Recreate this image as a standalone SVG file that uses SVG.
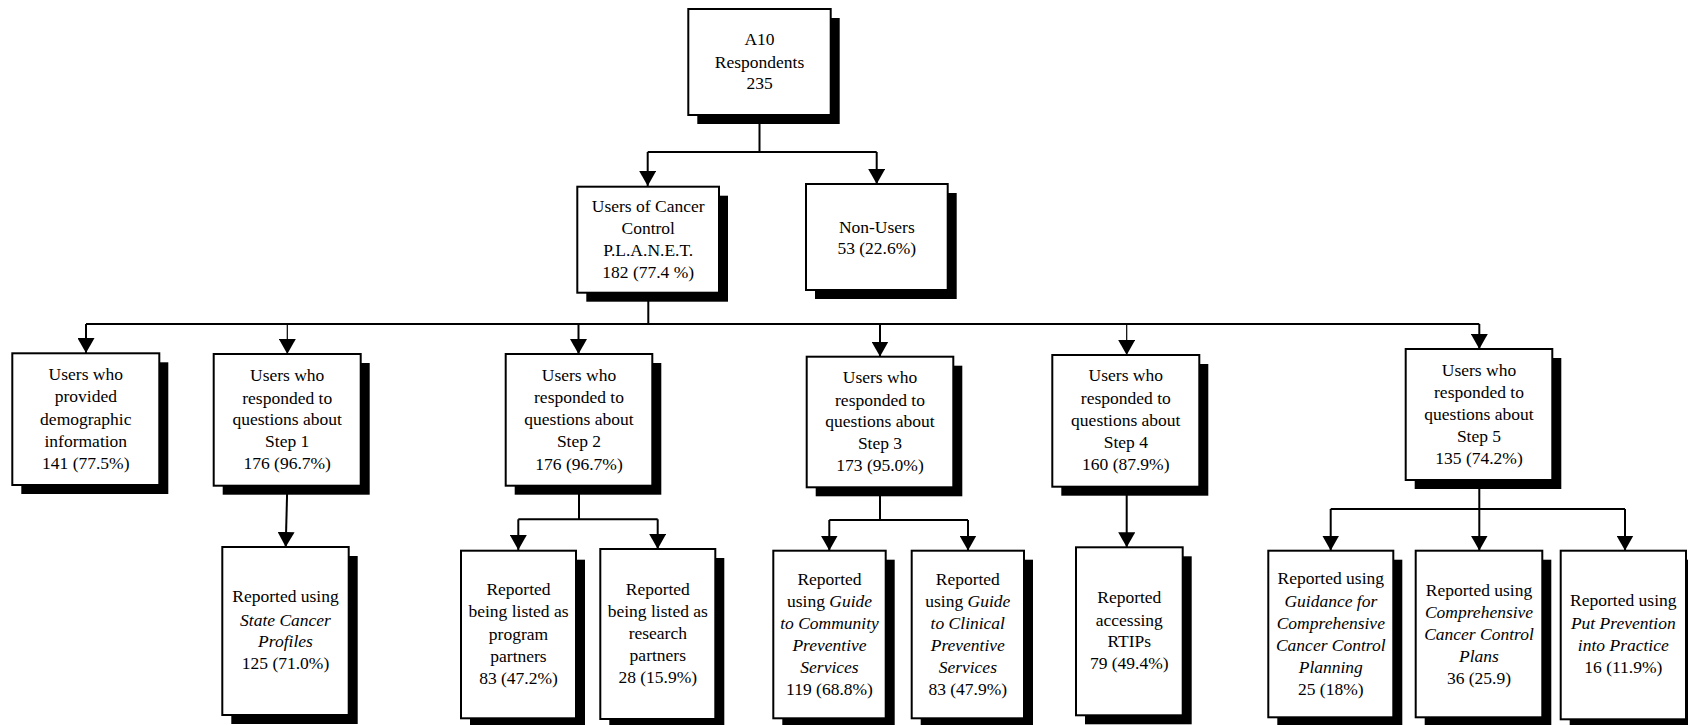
<svg xmlns="http://www.w3.org/2000/svg" width="1688" height="725" viewBox="0 0 1688 725">
<style>
.box{fill:#fff;stroke:#000;stroke-width:2}
.sh{fill:#000}
text{font-family:"Liberation Serif","Times New Roman",serif;font-size:17.5px;text-anchor:middle;fill:#000}
.it{font-style:italic}
.c{fill:none;stroke:#000;stroke-width:2}
.t{fill:none;stroke:#000;stroke-width:1.2}
</style>
<defs>
<marker id="ah" markerUnits="userSpaceOnUse" markerWidth="16" markerHeight="17" refX="15" refY="8.5" orient="auto" viewBox="0 0 16 17">
<path d="M0,0 L15,8.5 L0,17 z" fill="#000"/>
</marker>
</defs>
<rect width="1688" height="725" fill="#fff"/>

<g id="connectors">
<path class="c" d="M759.5 116 V152 M647.7 152 H876.7"/>
<path class="c" d="M647.7 152 V186" marker-end="url(#ah)"/>
<path class="c" d="M876.7 152 V184" marker-end="url(#ah)"/>
<path class="c" d="M648.3 293 V324 M86 324 H1479.3"/>
<path class="c" d="M86 324 V353" marker-end="url(#ah)"/>
<path class="t" d="M287.3 324 V354" marker-end="url(#ah)"/>
<path class="c" d="M578.5 324 V354" marker-end="url(#ah)"/>
<path class="c" d="M880 324 V356.5" marker-end="url(#ah)"/>
<path class="t" d="M1126.7 324 V355" marker-end="url(#ah)"/>
<path class="c" d="M1479.3 324 V349" marker-end="url(#ah)"/>
<path class="c" d="M287.3 486 L285.7 547" marker-end="url(#ah)"/>
<path class="c" d="M579 486 V519.3 M518.3 519.3 H657.7"/>
<path class="c" d="M518.3 519.3 V550" marker-end="url(#ah)"/>
<path class="c" d="M657.7 519.3 V549" marker-end="url(#ah)"/>
<path class="c" d="M880 488 V520 M829.3 520 H968"/>
<path class="c" d="M829.3 520 V550.5" marker-end="url(#ah)"/>
<path class="c" d="M968 520 V550.5" marker-end="url(#ah)"/>
<path class="c" d="M1126.7 487 V547.3" marker-end="url(#ah)"/>
<path class="c" d="M1479.3 480 V509 M1330.7 509 H1625"/>
<path class="c" d="M1330.7 509 V550.5" marker-end="url(#ah)"/>
<path class="c" d="M1479.3 509 V550.5" marker-end="url(#ah)"/>
<path class="c" d="M1625 509 V550.5" marker-end="url(#ah)"/>
</g>

<g id="root">
<rect class="sh" x="697.3" y="18" width="142.4" height="106"/>
<rect class="box" x="688.3" y="9" width="142.4" height="106"/>
<text x="759.5" y="45">A10</text>
<text x="759.5" y="67.5">Respondents</text>
<text x="759.5" y="89">235</text>
</g>

<g id="users">
<rect class="sh" x="586.3" y="195.7" width="141.7" height="106"/>
<rect class="box" x="577.3" y="186.7" width="141.7" height="106"/>
<text x="648.2" y="211.5">Users of Cancer</text>
<text x="648.2" y="233.8">Control</text>
<text x="648.2" y="256">P.L.A.N.E.T.</text>
<text x="648.2" y="278">182 (77.4 %)</text>
</g>

<g id="nonusers">
<rect class="sh" x="815" y="193" width="141.7" height="106"/>
<rect class="box" x="806" y="184" width="141.7" height="106"/>
<text x="876.8" y="232.5">Non-Users</text>
<text x="876.8" y="254">53 (22.6%)</text>
</g>

<g id="demographic">
<rect class="sh" x="21.3" y="362.3" width="147" height="131.7"/>
<rect class="box" x="12.3" y="353.3" width="147" height="131.7"/>
<text x="85.8" y="380">Users who</text>
<text x="85.8" y="402.3">provided</text>
<text x="85.8" y="424.6">demographic</text>
<text x="85.8" y="447">information</text>
<text x="85.8" y="469.3">141 (77.5%)</text>
</g>

<g id="step1">
<rect class="sh" x="222.7" y="363" width="147" height="131.7"/>
<rect class="box" x="213.7" y="354" width="147" height="131.7"/>
<text x="287.2" y="381.3">Users who</text>
<text x="287.2" y="403.5">responded to</text>
<text x="287.2" y="425.3">questions about</text>
<text x="287.2" y="447.3">Step 1</text>
<text x="287.2" y="469.3">176 (96.7%)</text>
</g>

<g id="statecancer">
<rect class="sh" x="231.3" y="556" width="126.4" height="168"/>
<rect class="box" x="222.3" y="547" width="126.4" height="168"/>
<text x="285.5" y="602.3">Reported using</text>
<text x="285.5" y="625.5" class="it">State Cancer</text>
<text x="285.5" y="647.3" class="it">Profiles</text>
<text x="285.5" y="669">125 (71.0%)</text>
</g>

<g id="step2">
<rect class="sh" x="514.7" y="363" width="146.6" height="131.7"/>
<rect class="box" x="505.7" y="354" width="146.6" height="131.7"/>
<text x="579" y="381.3">Users who</text>
<text x="579" y="403.3">responded to</text>
<text x="579" y="425.3">questions about</text>
<text x="579" y="447.3">Step 2</text>
<text x="579" y="469.6">176 (96.7%)</text>
</g>

<g id="program">
<rect class="sh" x="470" y="559.7" width="115" height="167.6"/>
<rect class="box" x="461" y="550.7" width="115" height="167.6"/>
<text x="518.5" y="595">Reported</text>
<text x="518.5" y="617.3">being listed as</text>
<text x="518.5" y="639.6">program</text>
<text x="518.5" y="662">partners</text>
<text x="518.5" y="684">83 (47.2%)</text>
</g>

<g id="research">
<rect class="sh" x="609.3" y="558" width="115" height="170"/>
<rect class="box" x="600.3" y="549" width="115" height="170"/>
<text x="657.8" y="595">Reported</text>
<text x="657.8" y="617.3">being listed as</text>
<text x="657.8" y="639.3">research</text>
<text x="657.8" y="661.3">partners</text>
<text x="657.8" y="683.3">28 (15.9%)</text>
</g>

<g id="step3">
<rect class="sh" x="815.7" y="365.7" width="146.6" height="130.6"/>
<rect class="box" x="806.7" y="356.7" width="146.6" height="130.6"/>
<text x="880" y="383.3">Users who</text>
<text x="880" y="405.6">responded to</text>
<text x="880" y="427.3">questions about</text>
<text x="880" y="449">Step 3</text>
<text x="880" y="471">173 (95.0%)</text>
</g>

<g id="community">
<rect class="sh" x="782.3" y="559.7" width="112.4" height="167.6"/>
<rect class="box" x="773.3" y="550.7" width="112.4" height="167.6"/>
<text x="829.5" y="585">Reported</text>
<text x="829.5" y="607.3">using <tspan class="it">Guide</tspan></text>
<text x="829.5" y="629.3" class="it">to Community</text>
<text x="829.5" y="651.3" class="it">Preventive</text>
<text x="829.5" y="673.3" class="it">Services</text>
<text x="829.5" y="695">119 (68.8%)</text>
</g>

<g id="clinical">
<rect class="sh" x="920.7" y="559.7" width="112.3" height="167.6"/>
<rect class="box" x="911.7" y="550.7" width="112.3" height="167.6"/>
<text x="967.8" y="584.5">Reported</text>
<text x="967.8" y="606.8">using <tspan class="it">Guide</tspan></text>
<text x="967.8" y="629.3" class="it">to Clinical</text>
<text x="967.8" y="651" class="it">Preventive</text>
<text x="967.8" y="673.3" class="it">Services</text>
<text x="967.8" y="695">83 (47.9%)</text>
</g>

<g id="step4">
<rect class="sh" x="1061.3" y="364" width="147" height="131.7"/>
<rect class="box" x="1052.3" y="355" width="147" height="131.7"/>
<text x="1125.8" y="381.3">Users who</text>
<text x="1125.8" y="404">responded to</text>
<text x="1125.8" y="426.3">questions about</text>
<text x="1125.8" y="448.3">Step 4</text>
<text x="1125.8" y="470">160 (87.9%)</text>
</g>

<g id="rtips">
<rect class="sh" x="1085" y="556.3" width="106.7" height="168"/>
<rect class="box" x="1076" y="547.3" width="106.7" height="168"/>
<text x="1129.3" y="603">Reported</text>
<text x="1129.3" y="625.6">accessing</text>
<text x="1129.3" y="647.3">RTIPs</text>
<text x="1129.3" y="669">79 (49.4%)</text>
</g>

<g id="step5">
<rect class="sh" x="1414.7" y="358" width="146.6" height="131"/>
<rect class="box" x="1405.7" y="349" width="146.6" height="131"/>
<text x="1479" y="375.6">Users who</text>
<text x="1479" y="397.5">responded to</text>
<text x="1479" y="419.6">questions about</text>
<text x="1479" y="441.6">Step 5</text>
<text x="1479" y="464">135 (74.2%)</text>
</g>

<g id="guidance">
<rect class="sh" x="1277.3" y="559.7" width="125" height="166.6"/>
<rect class="box" x="1268.3" y="550.7" width="125" height="166.6"/>
<text x="1330.8" y="584">Reported using</text>
<text x="1330.8" y="606.6" class="it">Guidance for</text>
<text x="1330.8" y="629" class="it">Comprehensive</text>
<text x="1330.8" y="651.3" class="it">Cancer Control</text>
<text x="1330.8" y="673.3" class="it">Planning</text>
<text x="1330.8" y="695">25 (18%)</text>
</g>

<g id="plans">
<rect class="sh" x="1424.7" y="559.7" width="126.6" height="166.6"/>
<rect class="box" x="1415.7" y="550.7" width="126.6" height="166.6"/>
<text x="1479" y="595.6">Reported using</text>
<text x="1479" y="618.3" class="it">Comprehensive</text>
<text x="1479" y="640" class="it">Cancer Control</text>
<text x="1479" y="662.3" class="it">Plans</text>
<text x="1479" y="684">36 (25.9)</text>
</g>

<g id="ppip">
<rect class="sh" x="1569.7" y="559.7" width="125.3" height="168.6"/>
<rect class="box" x="1560.7" y="550.7" width="125.3" height="168.6"/>
<text x="1623.3" y="606.3">Reported using</text>
<text x="1623.3" y="629" class="it">Put Prevention</text>
<text x="1623.3" y="651.3" class="it">into Practice</text>
<text x="1623.3" y="673.3">16 (11.9%)</text>
</g>
</svg>
